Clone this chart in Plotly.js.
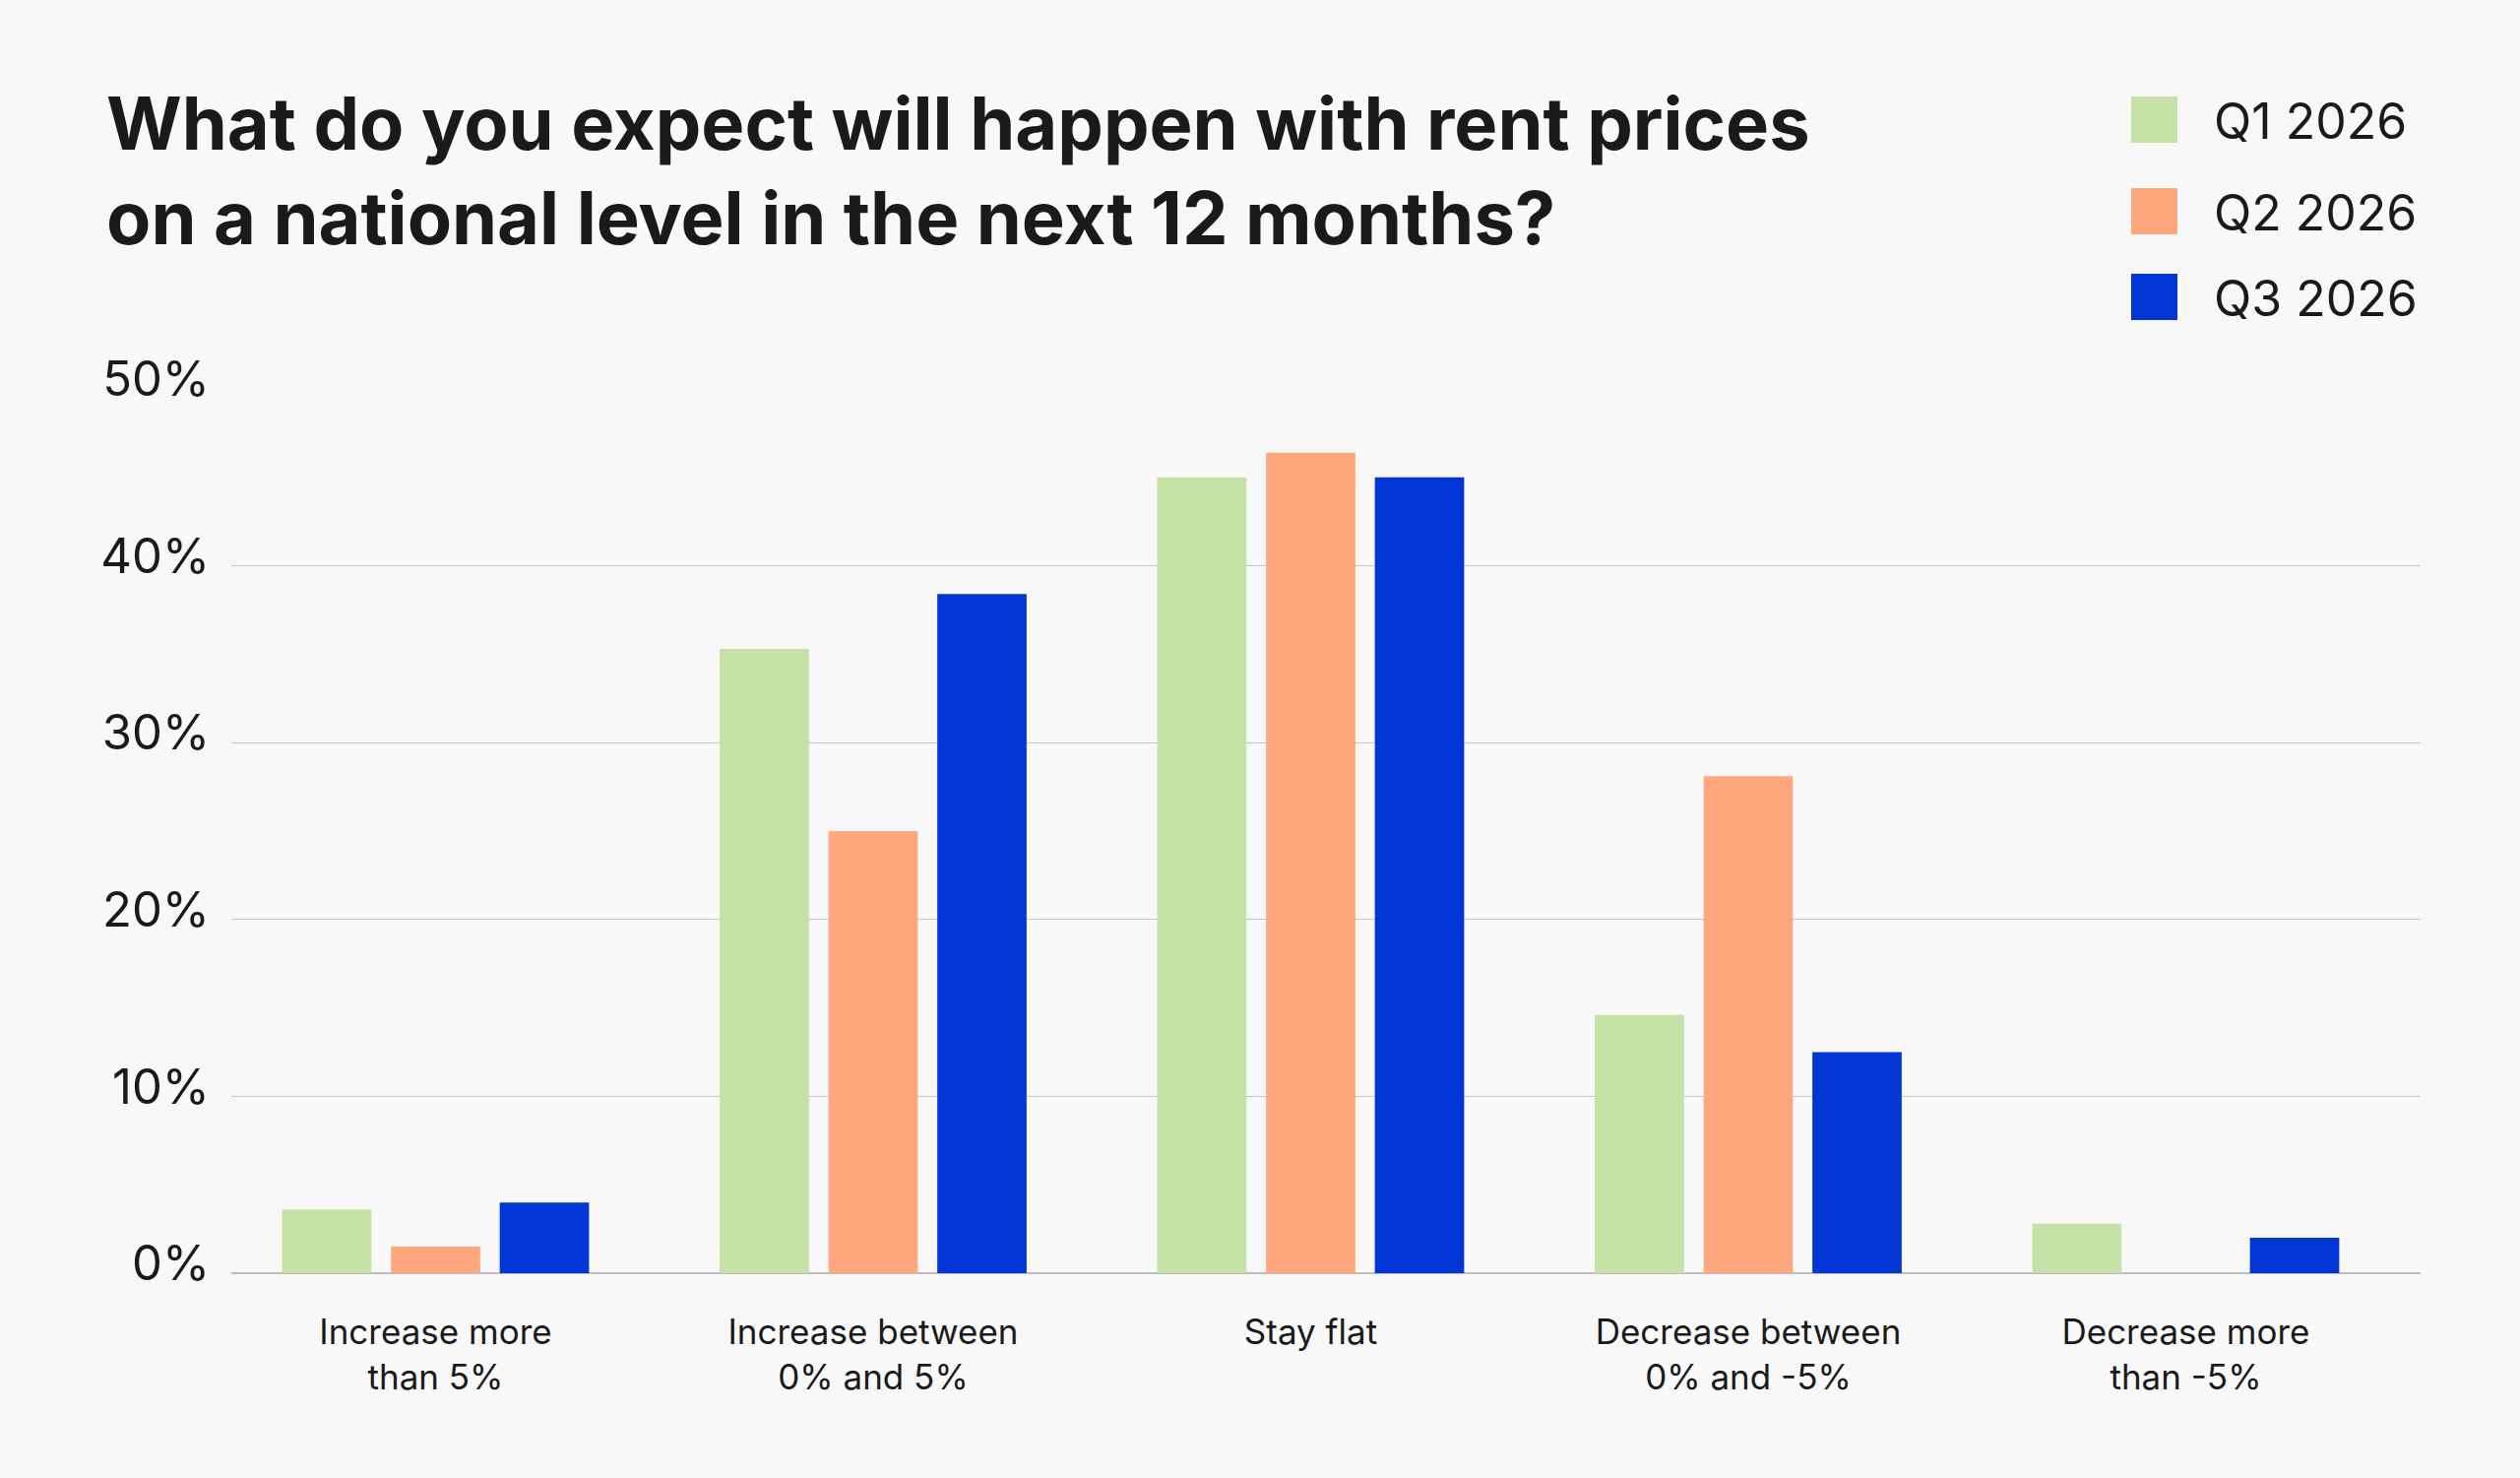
<!DOCTYPE html>
<html>
<head>
<meta charset="utf-8">
<script src="https://cdn.plot.ly/plotly-3.0.1.min.js"></script>
<style>
  html, body { margin: 0; padding: 0; background: #f8f8f8; }
  #chart { width: 2560px; height: 1501px; }
</style>
</head>
<body>
<div id="chart"></div>
<script>
// Answer categories (x axis)
const categories = [
  'Increase more<br>than 5%',
  'Increase between<br>0% and 5%',
  'Stay flat',
  'Decrease between<br>0% and -5%',
  'Decrease more<br>than -5%'
];

// Share of respondents per survey wave (%)
const q1_2026 = [3.6, 35.3, 45.0, 14.6, 2.8];
const q2_2026 = [1.5, 25.0, 46.4, 28.1, 0];
const q3_2026 = [4.0, 38.4, 45.0, 12.5, 2.0];

const seriesNames = ['Q1 2026', 'Q2 2026', 'Q3 2026'];
const seriesColors = ['#c4e2a5', '#ffa77d', '#0336d6'];

const yTickVals = [0, 10, 20, 30, 40, 50];
const yTickText = ['0%', '10%', '20%', '30%', '40%', '50%'];

const titleText = 'What do you expect will happen with rent prices<br>on a national level in the next 12 months?';

const FONT = 'Inter, "Liberation Sans", Arial, sans-serif';
const INK = '#1a1a1a';

const seriesValues = [q1_2026, q2_2026, q3_2026];
const xIdx = categories.map((_, i) => i);

const traces = seriesValues.map((vals, i) => ({
  type: 'bar',
  name: seriesNames[i],
  x: xIdx,
  y: vals,
  marker: { color: seriesColors[i], line: { width: 0 } },
  hoverinfo: 'skip',
  showlegend: false
}));

// Plot area in page pixels
const W = 2560, H = 1501;
const M = { l: 235, r: 101, t: 395, b: 208 };
const plotW = W - M.l - M.r;
const plotH = H - M.t - M.b;
const px2x = px => (px - M.l) / plotW;
const px2y = py => (H - M.b - py) / plotH;

// Custom legend: swatches + labels at top right
const legendTop = [98, 191, 278];
const sw = 47;
const shapes = [];
const annotations = [];
seriesNames.forEach((name, i) => {
  shapes.push({
    type: 'rect', xref: 'paper', yref: 'paper',
    x0: px2x(2165), x1: px2x(2165 + sw),
    y0: px2y(legendTop[i] + sw), y1: px2y(legendTop[i]),
    fillcolor: seriesColors[i], line: { width: 0 }
  });
  annotations.push({
    xref: 'paper', yref: 'paper',
    x: px2x(2247), y: px2y(legendTop[i] + sw / 2 + 1),
    xanchor: 'left', yanchor: 'middle',
    text: name, showarrow: false,
    font: { family: FONT, size: 50, color: INK }
  });
});

const layout = {
  width: W, height: H,
  paper_bgcolor: '#f8f8f8',
  plot_bgcolor: '#f8f8f8',
  margin: M,
  barmode: 'group',
  bargap: 0.254,
  bargroupgap: 0.179,
  title: {
    text: titleText,
    xref: 'container', yref: 'container',
    x: 108 / W, xanchor: 'left',
    y: 1 - 152 / H, yanchor: 'top',
    font: { family: FONT, size: 74, weight: 700, color: INK }
  },
  xaxis: {
    type: 'linear',
    range: [-0.4668, 4.5366],
    tickmode: 'array',
    tickvals: xIdx,
    ticktext: categories,
    showgrid: false,
    zeroline: false,
    showline: false,
    ticks: '',
    ticklabelstandoff: 36,
    tickfont: { family: FONT, size: 35, color: INK },
    fixedrange: true
  },
  yaxis: {
    range: [0, 50],
    tickmode: 'array',
    tickvals: yTickVals,
    ticktext: yTickText,
    showgrid: true,
    gridcolor: '#c6c6c6',
    gridwidth: 1.4,
    zeroline: true,
    zerolinecolor: '#bdbdbd',
    zerolinewidth: 2,
    showline: false,
    ticks: '',
    ticklabelstandoff: 21,
    ticklabelshift: -10,
    tickfont: { family: FONT, size: 49, color: INK },
    fixedrange: true
  },
  shapes: shapes,
  annotations: annotations,
  showlegend: false
};

Plotly.newPlot('chart', traces, layout, { displayModeBar: false, staticPlot: true });
</script>
</body>
</html>
